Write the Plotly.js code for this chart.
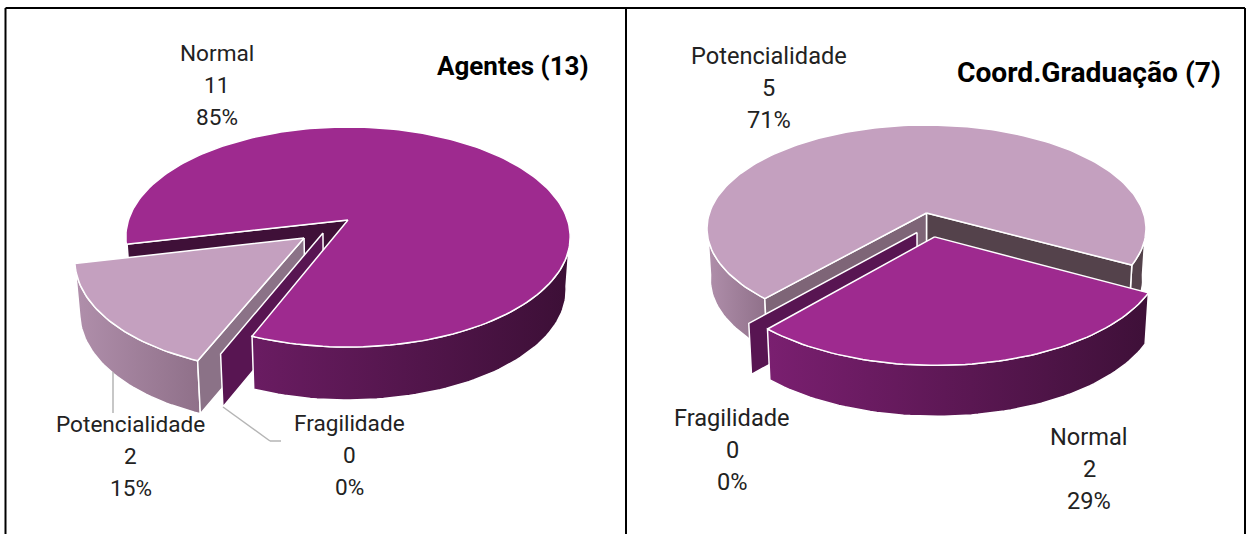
<!DOCTYPE html>
<html><head><meta charset="utf-8">
<script src="https://cdn.plot.ly/plotly-3.0.1.min.js"></script>
<style>html,body{margin:0;padding:0;background:#fff;overflow:hidden}#c{width:1246px;height:534px}</style>
</head><body><div id="c"></div>
<script>
// ---- data ----
const categories = ["Fragilidade", "Potencialidade", "Normal"];
const agentesValues = [0, 2, 11];
const coordValues = [0, 5, 2];
const agentesTitle = "Agentes (13)";
const coordTitle = "Coord.Graduação (7)";

// ---- colours ----
const NORMAL = "#9e2a8f", POT = "#c4a0bf", FRAG_WALL = "#581552", TEXT = "#222222", LEADER = "#b5b5b5";

// ---- geometry of the two tilted discs ----
const pies = [
  { values: agentesValues, start: 202, cx: 348, cy: 220, A: 219.5, B: 107.4, k: 0.1545, depth: 53, xs: 0.982,
    pull: { Fragilidade: [-0.112, -0.119], Potencialidade: [-0.195, -0.163], Normal: [0, 0] },
    layers: [
      { s: "Normal", kind: "wallStart", c0: "#3f1038" },
      { s: "Normal", kind: "outer", lo: 240, hi: 264, c0: "#3f1038" },
      { s: "Potencialidade", kind: "outer", lo: 90, hi: 264, c0: "#8f7089", c1: "#b08fab" },
      { s: "Potencialidade", kind: "wallStart", c0: "#8b7287" },
      { s: "Potencialidade", kind: "top", c0: POT },
      { s: "Fragilidade", kind: "wallStart", c0: FRAG_WALL },
      { s: "Normal", kind: "outer", lo: 97, hi: 203, c0: "#3c0f36", c1: "#6a1c62" },
      { s: "Normal", kind: "top", c0: NORMAL }
    ] },
  { values: coordValues, start: 221.4, cx: 926.5, cy: 213, A: 217, B: 101.2, k: 0.15, depth: 51, xs: 0.985,
    pull: { Fragilidade: [-0.0425, -0.187], Potencialidade: [0, 0], Normal: [0.036, -0.228] },
    layers: [
      { s: "Potencialidade", kind: "outer", lo: 96, hi: 120, c0: "#54424b" },
      { s: "Potencialidade", kind: "outer", lo: 220, hi: 264, c0: "#8f7089", c1: "#b08fab" },
      { s: "Potencialidade", kind: "wallEnd", c0: "#54424b" },
      { s: "Potencialidade", kind: "wallStart", c0: "#7e6577" },
      { s: "Potencialidade", kind: "top", c0: POT },
      { s: "Fragilidade", kind: "wallStart", c0: FRAG_WALL },
      { s: "Normal", kind: "outer", lo: 97, hi: 264, c0: "#3e1038", c1: "#7a1f70" },
      { s: "Normal", kind: "top", c0: NORMAL }
    ] }
];

// Data values -> slice angles (clockwise, degrees)
function slices(p) {
  const total = p.values.reduce((a, b) => a + b, 0);
  let a = p.start; const out = {};
  categories.forEach((name, i) => {
    const sweep = p.values[i] / total * 360;
    out[name] = { a, b: a + sweep, off: p.pull[name] };
    a += sweep;
  });
  return out;
}
function proj(p, u, v, low) {
  const w = 1 + p.k * v;
  let X = p.A * u / w, Y = p.B * v / w;
  if (low) { X *= p.xs; }
  return [p.cx + X, p.cy - Y + (low ? p.depth : 0)];
}
function rim(p, s, deg, low) {
  const t = deg * Math.PI / 180;
  return proj(p, Math.sin(t) + s.off[0], Math.cos(t) + s.off[1], low);
}
function arc(p, s, a, b, low) {
  const n = Math.max(2, Math.ceil(Math.abs(b - a) / 1.5)), pts = [];
  for (let i = 0; i <= n; i++) pts.push(rim(p, s, a + (b - a) * i / n, low));
  return pts;
}
function polygon(pts, c0, c1) {
  const tr = {
    type: "scatter", mode: "lines", x: pts.map(q => q[0]).concat(pts[0][0]), y: pts.map(q => q[1]).concat(pts[0][1]),
    fill: "toself", line: { color: "#ffffff", width: 1.5 }, hoverinfo: "skip", showlegend: false
  };
  if (c1) tr.fillgradient = { type: "horizontal", colorscale: [[0, c1], [1, c0]] };
  else tr.fillcolor = c0;
  return tr;
}
const traces = [];
pies.forEach(p => {
  const S = slices(p);
  p.layers.forEach(l => {
    const s = S[l.s], apex = proj(p, s.off[0], s.off[1], false), apexLow = proj(p, s.off[0], s.off[1], true);
    if (l.kind === "top") {
      traces.push(polygon([apex].concat(arc(p, s, s.a, s.b, false)), l.c0));
    } else if (l.kind === "wallStart" || l.kind === "wallEnd") {
      const d = l.kind === "wallStart" ? s.a : s.b;
      traces.push(polygon([apex, rim(p, s, d, false), rim(p, s, d, true), apexLow], l.c0));
    } else {
      for (let k = 0; k <= 1; k++) {
        const a = Math.max(s.a, l.lo + 360 * k), b = Math.min(s.b, l.hi + 360 * k);
        if (b > a) traces.push(polygon(arc(p, s, a, b, false).concat(arc(p, s, b, a, true)), l.c0, l.c1));
      }
    }
  });
});

// ---- labels ----
const labelAnchors = [
  { pie: 0, name: "Normal", x: 216.5, y: 53, size: 22.6 },
  { pie: 0, name: "Potencialidade", x: 130.5, y: 424, size: 22.6 },
  { pie: 0, name: "Fragilidade", x: 349, y: 423.5, size: 22.6 },
  { pie: 1, name: "Potencialidade", x: 768.5, y: 55.5, size: 23.6 },
  { pie: 1, name: "Fragilidade", x: 732, y: 418, size: 23.6 },
  { pie: 1, name: "Normal", x: 1089, y: 437, size: 23.6 }
];
const annotations = [];
function note(x, y, text, font, anchor) {
  annotations.push({ xref: "x", yref: "y", x, y, text, showarrow: false, font, xanchor: anchor || "center", yanchor: "middle" });
}
labelAnchors.forEach(l => {
  const vals = pies[l.pie].values, total = vals.reduce((a, b) => a + b, 0), v = vals[categories.indexOf(l.name)];
  const font = { family: "Roboto, sans-serif", size: l.size, color: TEXT };
  note(l.x, l.y, l.name, font);
  note(l.x, l.y + 32, String(v), font);
  note(l.x, l.y + 64, Math.round(v / total * 100) + "%", font);
});
note(590.5, 66, "<b>" + agentesTitle + "</b>", { family: "Roboto, sans-serif", size: 26, color: "#000000" }, "right");
note(1223, 72, "<b>" + coordTitle + "</b>", { family: "Roboto, sans-serif", size: 28.2, color: "#000000" }, "right");

// ---- frame and leader lines ----
const seg = (x0, y0, x1, y1, color, width) => ({ type: "line", xref: "x", yref: "y", x0, y0, x1, y1, line: { color, width } });
const shapes = [
  seg(5.5, 8, 1245, 8, "#000", 2), seg(5.5, 8, 5.5, 534, "#000", 2), seg(626, 8, 626, 534, "#000", 2), seg(1245, 8, 1245, 534, "#000", 2),
  seg(113, 372, 113, 413, LEADER, 1.5), seg(223, 407, 270, 441, LEADER, 1.5), seg(270, 441, 281, 441, LEADER, 1.5)
];

Plotly.newPlot("c", traces, {
  width: 1246, height: 534, margin: { l: 0, r: 0, t: 0, b: 0 }, paper_bgcolor: "#fff", plot_bgcolor: "#fff", showlegend: false,
  xaxis: { range: [0, 1246], visible: false, fixedrange: true },
  yaxis: { range: [534, 0], visible: false, fixedrange: true },
  annotations, shapes
}, { displayModeBar: false, staticPlot: true });
</script></body></html>
